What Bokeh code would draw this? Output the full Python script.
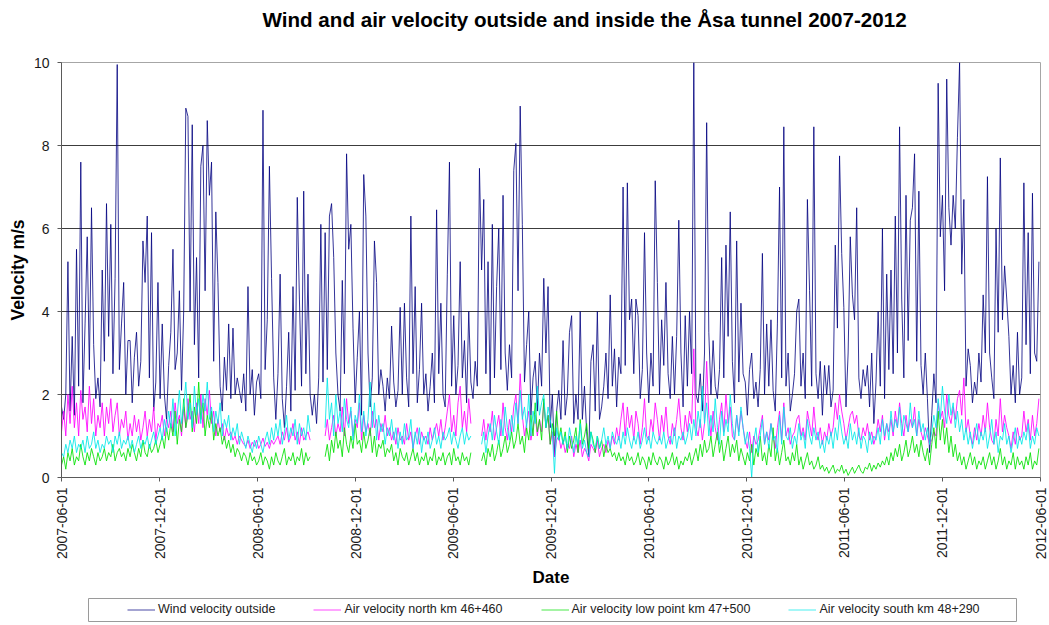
import math
import pandas as pd
from bokeh.plotting import figure
from bokeh.layouts import column
from bokeh.models import (Range1d, FixedTicker, DatetimeTickFormatter, Legend, LegendItem, Label)
from bokeh.embed import file_html
from bokeh.resources import INLINE

nan = float("nan")

# ---- data: 4-day samples starting 2007-06-01 (m/s) ----
START = "2007-06-01"
STEP = "4D"

wind_outside = [
    1.7, 1.4, 2.0, 5.2, 1.6, 3.4, 1.5, 5.5, 2.2, 7.6,
    1.8, 3.7, 5.8, 2.6, 6.5, 3.2, 1.9, 2.4, 1.7, 5.0,
    2.8, 6.6, 3.4, 6.1, 2.5, 4.8, 9.95, 2.6, 3.7, 4.7,
    2.0, 3.3, 3.3, 1.8, 2.9, 3.5, 2.2, 2.8, 5.7, 4.7,
    6.3, 2.4, 5.9, 1.6, 2.3, 4.7, 1.9, 3.7, 2.0, 1.4,
    2.7, 3.5, 5.5, 2.6, 3.0, 4.5, 2.1, 4.0, 8.9, 8.7,
    4.0, 8.5, 3.2, 5.3, 2.4, 7.5, 8.0, 4.5, 8.6, 6.8,
    7.6, 2.8, 6.4, 4.7, 2.2, 1.6, 2.9, 2.1, 3.7, 1.9,
    3.6, 2.0, 2.4, 2.1, 1.8, 2.5, 1.6, 4.6, 2.0, 2.6,
    1.5, 2.3, 2.5, 1.9, 8.85, 2.6, 3.8, 7.5, 4.8, 2.4,
    1.4, 2.5, 4.9, 1.9, 1.2, 2.2, 3.5, 1.6, 4.6, 2.1,
    6.75, 4.3, 2.2, 6.9, 2.5, 4.9, 2.0, 1.5, 2.0, 1.3,
    2.4, 6.1, 2.3, 5.9, 2.6, 6.3, 6.6, 5.3, 3.0, 2.0,
    1.6, 4.75, 2.5, 7.8, 5.5, 6.1, 3.6, 1.8, 2.9, 4.0,
    1.5, 7.3, 6.3, 3.0, 1.7, 2.4, 5.7, 4.7, 2.0, 2.6,
    2.2, 1.6, 2.4, 1.9, 3.65, 2.3, 1.7, 2.1, 4.1, 2.0,
    4.2, 2.4, 1.7, 6.3, 2.5, 4.6, 1.8, 2.6, 4.2, 2.0,
    2.5, 1.6, 2.2, 3.0, 1.8, 6.45, 2.5, 4.2, 2.0, 1.7,
    4.9, 7.6, 2.2, 3.9, 2.0, 2.7, 5.2, 2.4, 3.3, 1.8,
    4.0, 2.3, 1.9, 2.8, 2.2, 7.45, 5.0, 6.7, 2.5, 5.2,
    2.0, 6.1, 2.4, 4.6, 6.0, 2.6, 6.8, 3.0, 2.1, 3.2,
    2.4, 7.4, 8.05, 4.5, 8.95, 6.1, 2.3, 3.2, 4.0, 1.5,
    2.4, 2.8, 1.6, 3.0, 2.2, 4.8, 3.0, 4.6, 1.2, 2.0,
    0.5, 1.6, 2.1, 1.4, 3.3, 1.5, 2.0, 3.5, 3.9, 1.3,
    2.0, 1.4, 4.0, 1.4, 2.2, 1.1, 0.5, 2.8, 3.2, 1.6,
    4.0, 1.4, 1.7, 2.2, 3.0, 1.9, 4.4, 2.2, 3.1, 1.7,
    2.9, 2.5, 7.0, 2.7, 7.1, 3.8, 4.3, 2.5, 4.3, 3.9,
    1.9, 2.6, 5.9, 3.0, 1.8, 3.0, 2.2, 7.15, 4.7, 2.0,
    3.8, 2.7, 4.7, 2.5, 1.9, 3.4, 2.0, 3.4, 6.2, 3.0,
    1.7, 3.9, 2.2, 4.0, 2.5, 10.0, 2.0, 1.8, 2.5, 1.6,
    3.0, 8.55, 3.5, 2.0, 3.3, 2.2, 1.9, 2.6, 5.3, 2.4,
    5.6, 3.4, 6.4, 2.8, 1.8, 5.7, 2.3, 4.2, 2.5, 2.3,
    1.5, 2.6, 3.0, 1.9, 2.3, 1.7, 2.6, 5.4, 2.0, 3.7,
    2.2, 3.8, 2.1, 1.6, 3.7, 7.0, 2.4, 8.45, 2.2, 3.0,
    1.6, 2.0, 2.5, 4.0, 4.3, 2.2, 3.0, 1.9, 6.7, 4.5,
    2.2, 8.45, 2.5, 1.9, 2.8, 1.5, 2.7, 2.0, 2.7, 1.7,
    2.1, 5.6, 3.6, 7.75, 5.4, 4.1, 1.7, 3.0, 5.8, 4.4,
    3.8, 6.5, 2.4, 1.9, 2.6, 2.2, 2.7, 1.7, 3.0, 1.3,
    2.3, 4.0, 2.2, 6.0, 1.9, 4.9, 2.6, 5.0, 2.5, 6.3,
    3.0, 8.45, 4.3, 2.4, 6.8, 3.3, 6.2, 6.5, 7.8, 2.8,
    6.9, 2.7, 2.0, 3.0, 1.9, 0.6, 1.5, 2.5, 1.8, 9.5,
    5.8, 6.8, 4.5, 9.6, 6.5, 5.6, 6.8, 6.0, 8.2, 10.0,
    4.9, 6.7, 2.2, 3.1, 2.7, 1.8, 2.3, 2.0, 3.0, 2.3,
    4.4, 3.0, 7.25, 3.0, 2.4, 1.9, 6.0, 3.5, 7.7, 3.8,
    5.1, 4.3, 3.4, 2.0, 2.7, 1.8, 3.5, 2.0, 2.4, 7.1,
    3.2, 5.9, 2.5, 6.85, 3.0, 2.8, 5.2,
]

air_north = [
    1.1, 1.6, 1.0, 2.0, 1.3, 2.2, 1.2, 1.8, 1.0, 2.1,
    1.4, 1.7, 1.1, 2.2, 1.3, 1.9, 1.0, 1.5, 1.2, 1.8,
    1.0, 1.7, 1.3, 1.9, 1.1, 1.5, 1.8, 1.0, 1.4, 1.2,
    1.6, 0.9, 1.3, 1.0, 1.5, 1.1, 1.4, 0.9, 1.2, 1.6,
    1.0, 1.4, 1.1, 1.7, 0.9, 1.3, 1.2, 1.5, 1.0, 1.4,
    1.2, 1.6, 1.1, 1.8, 1.3, 1.5, 1.0, 1.7, 1.2, 1.9,
    1.4, 1.6, 1.1, 1.8, 1.3, 2.0, 1.2, 1.9, 1.5, 2.1,
    1.3, 1.6, 1.0, 1.4, 1.1, 1.3, 0.9, 1.2, 1.0, 1.1,
    0.9, 1.0, 0.8, 1.0, 0.9, 0.8, 0.75, 0.9, 0.7, 0.85,
    0.75, 0.9, 0.7, 0.8, 0.95, 0.75, 0.85, 0.7, 0.9, 0.8,
    0.9, 1.0, 0.8, 1.1, 0.9, 1.2, 0.85, 1.0, 1.3, 0.9,
    1.1, 0.8, 1.2, 0.9, 1.0, 1.1, 0.9, nan, nan, nan,
    nan, nan, nan, 1.0, 1.4, 0.9, 1.2, 1.5, 1.0, 1.3,
    1.1, 1.7, 1.0, 1.9, 1.3, 1.6, 1.0, 1.4, 1.2, 1.8,
    0.9, 1.5, 1.1, 1.3, 1.0, 1.6, 1.2, 1.4, 0.9, 1.3,
    1.1, 1.5, 1.0, 1.2, 0.9, 1.1, 0.8, 1.2, 0.9, 1.0,
    0.8, 1.3, 0.9, 1.1, 0.7, 1.0, 1.2, 0.8, 1.1, 0.9,
    1.0, 0.8, 1.2, 0.9, 1.1, 1.3, 1.0, 1.4, 0.9, 1.2,
    1.6, 2.0, 1.1, 1.5, 1.0, 1.8, 2.2, 1.2, 1.6, 1.1,
    1.9, 1.3, nan, nan, nan, nan, 1.0, 1.4, 0.9, 1.3,
    1.1, 1.6, 0.9, 1.2, 1.5, 1.0, 1.8, 1.2, 0.9, 1.4,
    1.1, 1.7, 2.0, 1.3, 2.5, 1.5, 1.0, 1.3, 1.6, 0.9,
    1.2, 1.5, 1.0, 1.4, 1.1, 1.8, 1.2, 1.5, 0.8, 1.1,
    0.5, 0.9, 1.0, 0.7, 0.9, 0.6, 0.8, 0.7, 1.0, 0.5,
    0.8, 0.6, 0.9, 0.5, 0.7, 0.6, 0.4, 0.8, 0.7, 0.6,
    0.9, 0.5, 0.7, 0.8, 0.6, 0.9, 0.7, 1.0, 0.8, 1.2,
    0.9, 1.4, 1.8, 1.0, 1.7, 1.2, 1.5, 0.9, 1.6, 1.3,
    0.8, 1.2, 1.9, 1.0, 0.9, 1.4, 1.1, 1.8, 1.4, 0.9,
    1.5, 1.1, 1.7, 1.0, 0.8, 1.3, 1.0, 1.4, 1.9, 1.2,
    0.9, 1.5, 1.1, 1.6, 1.3, 3.1, 1.2, 1.0, 1.4, 0.9,
    1.3, 2.8, 1.5, 1.0, 1.6, 1.2, 0.9, 1.4, 1.8, 1.1,
    2.0, 1.3, 1.7, 1.0, 0.9, 1.5, 1.1, 1.6, 1.2, 0.9,
    0.7, 1.1, 0.6, 1.0, 0.8, 0.9, 1.2, 1.5, 0.8, 1.1,
    0.9, 1.3, 1.0, 0.7, 1.2, 1.6, 0.9, 1.8, 1.0, 1.2,
    0.8, 1.0, 1.1, 1.4, 1.5, 1.0, 1.2, 0.9, 1.6, 1.3,
    1.0, 1.7, 1.1, 0.9, 1.2, 0.8, 1.1, 0.9, 1.3, 1.0,
    1.2, 1.8, 1.4, 2.0, 1.6, 1.3, 0.9, 1.2, 1.5, 1.6,
    1.3, 1.5, 1.0, 0.9, 1.2, 1.0, 1.3, 0.9, 1.1, 0.8,
    1.0, 1.4, 1.1, 1.5, 0.9, 1.3, 1.1, 1.4, 1.0, 1.6,
    1.2, 1.8, 1.3, 1.0, 1.5, 1.1, 1.4, 1.2, 1.7, 1.0,
    1.4, 1.1, 0.9, 1.2, 1.0, 0.8, 0.9, 1.1, 1.0, 1.8,
    1.4, 1.6, 1.2, 2.0, 1.5, 1.3, 1.7, 1.4, 1.9, 2.1,
    1.5, 2.4, 1.1, 1.4, 1.0, 0.8, 1.2, 0.9, 1.3, 1.0,
    1.5, 1.1, 1.8, 1.2, 0.9, 0.8, 1.4, 1.0, 1.9, 1.1,
    1.5, 1.2, 1.0, 0.7, 1.1, 0.8, 1.2, 0.9, 1.0, 1.6,
    1.1, 1.4, 0.9, 1.5, 1.0, 1.3, 1.9,
]

air_low_point = [
    0.3, 0.5, 0.2, 0.6, 0.4, 0.7, 0.3, 0.5, 0.4, 0.8,
    0.5, 0.3, 0.6, 0.4, 0.7, 0.5, 0.3, 0.6, 0.4, 0.5,
    0.7, 0.4, 0.6, 0.5, 0.8, 0.4, 0.6, 0.7, 0.5, 0.6,
    0.4, 0.7, 0.5, 0.8, 0.6, 0.4, 0.7, 0.5, 0.9, 0.6,
    0.5, 0.8, 0.6, 0.7, 0.9, 0.6, 0.8, 1.0, 0.7, 1.2,
    0.9, 1.3, 1.0, 1.6, 0.8, 1.4, 1.1, 1.9, 1.2, 1.5,
    2.0, 1.1, 1.7, 1.3, 2.3, 1.4, 1.8, 1.0, 1.5, 1.2,
    1.6, 0.9, 1.3, 1.0, 1.2, 0.8, 1.0, 0.7, 0.9, 0.6,
    0.8, 0.5, 0.7, 0.6, 0.4, 0.6, 0.5, 0.3, 0.6, 0.4,
    0.5, 0.3, 0.4, 0.6, 0.3, 0.5, 0.4, 0.2, 0.5, 0.3,
    0.6, 0.4, 0.3, 0.5, 0.7, 0.3, 0.5, 0.4, 0.6, 0.3,
    0.5, 0.4, 0.7, 0.3, 0.6, 0.4, 0.5, nan, nan, nan,
    nan, nan, nan, 0.5, 0.8, 0.4, 0.9, 0.6, 1.1, 0.7,
    0.9, 0.5, 1.2, 0.8, 0.6, 1.0, 0.7, 1.3, 0.8, 0.9,
    0.6, 1.1, 0.7, 0.9, 1.2, 0.6, 1.0, 0.5, 0.8, 0.7,
    0.9, 0.5, 0.7, 0.6, 0.8, 0.4, 0.6, 0.3, 0.7, 0.5,
    0.4, 0.6, 0.3, 0.5, 0.7, 0.4, 0.6, 0.3, 0.5, 0.4,
    0.6, 0.3, 0.5, 0.4, 0.7, 0.3, 0.5, 0.4, 0.6, 0.3,
    0.5, 0.6, 0.3, 0.7, 0.4, 0.5, 0.3, 0.6, 0.4, 0.5,
    0.3, 0.6, nan, nan, nan, nan, 0.4, 0.6, 0.3, 0.7,
    0.5, 0.8, 0.4, 0.6, 0.9, 0.5, 0.7, 1.0, 0.6, 0.8,
    1.1, 0.7, 0.9, 1.3, 0.8, 1.0, 0.6, 1.2, 0.9, 1.5,
    1.0, 1.8, 1.1, 1.4, 0.9, 1.9, 1.2, 1.5, 0.8, 1.3,
    1.0, 1.6, 0.9, 1.2, 0.8, 1.1, 0.6, 1.0, 0.7, 0.9,
    1.2, 0.6, 1.4, 0.8, 1.0, 1.3, 0.7, 1.1, 0.9, 0.6,
    1.0, 0.7, 0.9, 0.5, 0.8, 0.6, 0.7, 0.5, 0.6, 0.4,
    0.6, 0.4, 0.5, 0.3, 0.6, 0.4, 0.5, 0.3, 0.4, 0.6,
    0.3, 0.5, 0.4, 0.2, 0.5, 0.3, 0.6, 0.4, 0.3, 0.5,
    0.4, 0.2, 0.5, 0.3, 0.4, 0.6, 0.3, 0.5, 0.2, 0.4,
    0.3, 0.5, 0.4, 0.6, 0.3, 0.5, 0.7, 0.4, 0.8, 0.5,
    0.9, 0.6, 0.7, 1.0, 0.5, 0.8, 1.1, 0.6, 0.9, 0.4,
    0.7, 1.0, 0.5, 0.8, 0.6, 0.9, 0.4, 0.7, 0.5, 0.3,
    0.6, 0.4, 0.8, 0.3, 0.7, 0.5, 1.0, 0.4, 0.6, 0.3,
    0.8, 0.5, 1.2, 0.4, 0.7, 0.3, 0.6, 0.9, 0.4, 0.5,
    0.3, 0.6, 0.4, 0.8, 0.3, 0.5, 0.2, 0.4, 0.6, 0.3,
    0.4, 0.2, 0.3, 0.5, 0.2, 0.3, 0.15, 0.25, 0.1, 0.2,
    0.3, 0.1, 0.2, 0.15, 0.3, 0.1, 0.2, 0.05, 0.15, 0.25,
    0.1, 0.2, 0.3, 0.15, 0.1, 0.25, 0.2, 0.35, 0.15, 0.3,
    0.2, 0.35, 0.25, 0.4, 0.3, 0.5, 0.3, 0.6, 0.4, 0.7,
    0.5, 0.8, 0.4, 0.6, 0.9, 0.5, 0.7, 1.0, 0.6, 0.8,
    0.5, 0.9, 0.6, 0.4, 0.7, 0.3, 0.8, 1.2, 0.7, 1.6,
    0.9, 1.4, 0.8, 1.2, 0.6, 1.0, 0.5, 0.8, 0.4, 0.6,
    0.3, 0.5, 0.2, 0.4, 0.6, 0.3, 0.5, 0.2, 0.4, 0.3,
    0.5, 0.2, 0.4, 0.6, 0.3, 0.5, 0.2, 0.4, 0.7, 0.3,
    0.5, 0.2, 0.4, 0.3, 0.6, 0.2, 0.5, 0.3, 0.4, 0.2,
    0.5, 0.3, 0.6, 0.2, 0.4, 0.3, 0.7,
]

air_south = [
    0.6, 0.5, 0.8, 0.6, 0.9, 0.7, 1.0, 0.6, 0.8, 0.7,
    0.9, 0.6, 1.0, 0.7, 0.8, 1.1, 0.7, 0.9, 0.6, 0.8,
    0.7, 1.0, 0.8, 0.9, 0.6, 1.0, 0.8, 1.1, 0.7, 0.9,
    0.8, 1.0, 0.7, 0.9, 0.6, 0.8, 1.0, 0.7, 0.9, 0.8,
    1.0, 0.7, 0.9, 1.1, 0.8, 1.0, 1.2, 0.9, 1.4, 1.1,
    1.6, 1.2, 1.9, 1.0, 1.5, 2.1, 1.3, 1.7, 2.3, 1.4,
    1.8, 1.2, 2.2, 1.5, 1.9, 1.3, 2.0, 1.6, 2.3, 1.4,
    1.7, 1.1, 1.6, 1.3, 1.8, 1.0, 1.4, 1.2, 1.5, 0.9,
    1.2, 1.0, 1.3, 0.8, 1.1, 0.9, 0.7, 1.0, 0.8, 0.6,
    0.9, 0.7, 1.0, 0.8, 0.6, 0.9, 1.1, 0.8, 1.2, 0.9,
    1.3, 1.0, 1.4, 0.8, 1.1, 1.5, 0.9, 1.2, 1.0, 1.4,
    0.8, 1.3, 1.0, 1.2, 0.9, 1.5, 1.1, nan, nan, nan,
    nan, nan, nan, 1.2, 2.4, 1.4, 1.8, 1.0, 2.0, 1.3,
    1.6, 1.1, 1.9, 1.4, 1.2, 1.7, 0.9, 1.5, 1.3, 2.0,
    1.1, 1.6, 1.0, 1.4, 2.3, 1.2, 1.8, 0.9, 1.5, 1.1,
    1.3, 0.8, 1.2, 1.0, 1.4, 0.9, 1.2, 0.7, 1.1, 0.8,
    1.3, 0.9, 1.0, 1.4, 0.7, 1.1, 0.8, 1.2, 0.6, 1.0,
    0.8, 1.1, 0.7, 0.9, 1.2, 0.8, 1.0, 0.7, 1.1, 0.9,
    1.0, 1.2, 0.8, 1.1, 0.9, 0.7, 1.0, 1.2, 0.8, 1.1,
    0.9, 1.0, nan, nan, nan, nan, 0.8, 1.1, 0.6, 1.0,
    1.3, 0.9, 1.5, 1.1, 0.8, 1.4, 1.0, 1.7, 1.2, 0.9,
    1.5, 1.1, 1.8, 1.3, 2.1, 1.4, 1.7, 1.2, 2.0, 1.0,
    1.6, 1.3, 2.2, 1.5, 1.8, 2.0, 1.2, 1.7, 1.4, 1.1,
    0.1, 1.2, 0.9, 1.1, 0.8, 1.0, 0.7, 1.2, 0.9, 0.6,
    1.0, 0.8, 1.3, 0.7, 0.9, 0.6, 0.5, 1.1, 0.8, 0.7,
    1.0, 0.7, 0.9, 1.2, 0.8, 1.0, 0.7, 1.1, 0.9, 0.8,
    1.0, 0.7, 1.1, 0.8, 1.2, 0.9, 0.7, 1.0, 0.8, 1.1,
    0.7, 0.9, 1.2, 0.8, 1.0, 0.7, 1.1, 0.9, 0.8, 1.0,
    0.8, 1.1, 0.7, 0.9, 1.0, 0.8, 1.2, 0.7, 1.0, 0.9,
    1.1, 0.8, 1.0, 1.3, 0.9, 1.4, 1.0, 1.6, 1.2, 2.2,
    1.3, 1.8, 1.0, 1.5, 1.1, 1.9, 1.2, 0.8, 1.6, 1.0,
    1.4, 1.1, 2.0, 1.3, 0.9, 1.5, 1.0, 1.7, 1.2, 0.8,
    1.1, 0.7, 0.0, 0.9, 1.2, 0.6, 1.0, 1.4, 0.8, 1.1,
    0.7, 1.3, 0.9, 1.0, 0.6, 1.5, 0.8, 1.7, 1.0, 0.9,
    1.2, 0.7, 1.0, 0.8, 1.3, 0.9, 1.1, 0.7, 1.4, 1.0,
    0.8, 1.2, 0.9, 1.1, 0.7, 0.9, 0.6, 1.0, 0.8, 1.1,
    0.7, 1.2, 0.9, 1.5, 1.1, 0.8, 1.0, 0.7, 1.3, 0.9,
    1.1, 0.8, 1.2, 0.7, 1.0, 0.9, 0.6, 1.1, 0.8, 1.0,
    0.9, 1.2, 0.8, 1.4, 1.0, 1.3, 0.9, 1.6, 1.1, 1.4,
    1.2, 1.7, 1.0, 1.5, 1.3, 1.1, 1.8, 1.2, 1.4, 1.0,
    1.6, 1.1, 1.3, 0.9, 1.2, 0.8, 1.1, 1.5, 1.2, 1.9,
    1.4, 2.2, 1.6, 1.3, 2.0, 1.5, 1.8, 1.2, 1.6, 1.1,
    1.4, 0.9, 1.2, 0.8, 1.1, 0.7, 1.0, 1.3, 0.8, 1.1,
    0.9, 1.2, 0.7, 1.0, 1.4, 0.8, 1.1, 0.6, 1.0, 0.9,
    1.3, 0.8, 1.0, 0.6, 0.9, 1.2, 0.7, 1.0, 0.8, 1.1,
    0.9, 1.3, 0.7, 1.0, 0.8, 1.2, 1.0,
]

tick_dates = ["2007-06-01", "2007-12-01", "2008-06-01", "2008-12-01", "2009-06-01",
              "2009-12-01", "2010-06-01", "2010-12-01", "2011-06-01", "2011-12-01",
              "2012-06-01"]

series = [
    ("Wind velocity outside", wind_outside, "#000080", 0.8),
    ("Air velocity north km 46+460", air_north, "#ff00ff", 0.85),
    ("Air velocity low point km 47+500", air_low_point, "#00e000", 0.85),
    ("Air velocity south km 48+290", air_south, "#00e8e8", 0.85),
]

FONT = "Liberation Sans"
TITLE = "Wind and air velocity outside and inside the \u00c5sa  tunnel 2007-2012"
W = 1049
FL, FR = 61, 1040   # left / right edge of the plotting frame (shared by the column)


def blank_fig(height):
    f = figure(width=W, height=height, output_backend="svg", toolbar_location=None,
               x_axis_location=None, y_axis_location=None,
               min_border=0, min_border_left=0, min_border_right=0,
               min_border_top=0, min_border_bottom=0)
    # the column aligns the frames horizontally, so map data x to page pixels
    f.x_range = Range1d(FL, FR)
    f.y_range = Range1d(0, height)
    f.outline_line_color = None
    f.grid.grid_line_color = None
    f.background_fill_color = "white"
    f.border_fill_color = "white"
    return f


# ---- title strip ----
TITLE_H = 52
p_title = blank_fig(TITLE_H)
p_title.add_layout(Label(x=262, y=33, text=TITLE, text_font=FONT,
                         text_font_size="20.6px", text_font_style="bold",
                         text_color="#000000", text_align="left",
                         text_baseline="alphabetic"))

# ---- main chart ----
p = figure(width=W, height=10 + 415 + 115, x_axis_type="datetime",
           output_backend="svg", toolbar_location=None,
           min_border_left=61, min_border_top=10, min_border_right=9, min_border_bottom=115)
p.x_range = Range1d(pd.Timestamp(tick_dates[0]), pd.Timestamp(tick_dates[-1]))
p.y_range = Range1d(0, 10)

p.outline_line_color = "#a6a6a6"
p.outline_line_width = 1
p.background_fill_color = "white"
p.border_fill_color = "white"

p.yaxis.ticker = FixedTicker(ticks=[0, 2, 4, 6, 8, 10])
p.yaxis.axis_label = "Velocity m/s"
p.xaxis.axis_label = "Date"
tick_ms = [pd.Timestamp(d).value // 10**6 for d in tick_dates]
p.xaxis.ticker = FixedTicker(ticks=tick_ms)
fmt = "%Y-%m-%d"
p.xaxis.formatter = DatetimeTickFormatter(days=fmt, months=fmt, years=fmt, hours=fmt,
                                          hourmin=fmt, minutes=fmt, minsec=fmt,
                                          seconds=fmt, milliseconds=fmt, microseconds=fmt)
p.xaxis.major_label_orientation = math.pi / 2

for ax in (p.xaxis[0], p.yaxis[0]):
    ax.axis_line_color = "#5a5a5a"
    ax.major_tick_line_color = "#5a5a5a"
    ax.major_tick_in = 0
    ax.major_tick_out = 4
    ax.minor_tick_line_color = None
    ax.major_label_text_font = FONT
    ax.major_label_text_font_size = "14px"
    ax.major_label_text_color = "#1a1a1a"
    ax.axis_label_text_font = FONT
    ax.axis_label_text_font_style = "bold"
    ax.axis_label_text_color = "#000000"

p.yaxis.major_label_standoff = 8
p.yaxis.axis_label_standoff = 3
p.yaxis.axis_label_text_font_size = "17.5px"
p.xaxis.major_label_standoff = 6
p.xaxis.axis_label_standoff = 6
p.xaxis.axis_label_text_font_size = "17px"

p.xgrid.grid_line_color = None
p.ygrid.ticker = FixedTicker(ticks=[2, 4, 6, 8])
p.ygrid.grid_line_color = "#3c3c3c"
p.ygrid.grid_line_width = 1

for name, vals, color, alpha in series:
    xs = pd.date_range(START, periods=len(vals), freq=STEP)
    p.line(xs, vals, line_color=color, line_width=1, line_alpha=alpha)

# ---- legend strip ----
LEG_H = 30
p_leg = blank_fig(LEG_H)
p_leg.quad(left=[88], right=[1016], bottom=[1], top=[24],
           fill_color="white", line_color="#9a9a9a", line_width=1)
items = []
for name, vals, color, alpha in series:
    # legend-only renderer: a single NaN point so nothing shows in the strip itself
    r = p_leg.line(x=[nan], y=[nan], line_color=color, line_width=1.2, line_alpha=0.6)
    items.append(LegendItem(label=name, renderers=[r]))
legend = Legend(items=items, orientation="horizontal", location=(127 - FL, 6),
                glyph_width=28, glyph_height=13, label_standoff=3, spacing=38,
                padding=0, margin=0, label_height=13,
                label_text_font=FONT, label_text_font_size="12.5px",
                label_text_color="#222222",
                border_line_color=None, background_fill_alpha=0)
p_leg.add_layout(legend, "center")

layout = column(p_title, p, p_leg, spacing=0)
open("out.html", "w").write(file_html(layout, INLINE))
